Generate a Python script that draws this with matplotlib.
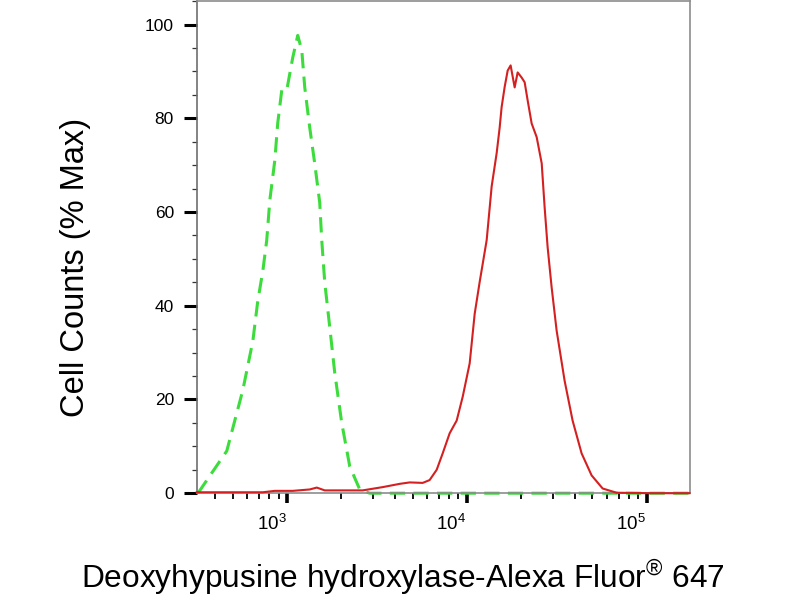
import matplotlib
matplotlib.use("Agg")
import matplotlib.pyplot as plt
import matplotlib.transforms as mtransforms
from matplotlib.ticker import LogLocator, FixedLocator, MultipleLocator, NullFormatter

plt.rcParams['font.family'] = ['Liberation Sans', 'DejaVu Sans']
plt.rcParams['mathtext.fontset'] = 'custom'
plt.rcParams['mathtext.rm'] = 'Liberation Sans'
plt.rcParams['mathtext.it'] = 'Liberation Sans'
plt.rcParams['lines.scale_dashes'] = False

# control (isotype), green dashed
ctrl_x = [321, 464, 570, 648, 690, 736, 774, 805, 858, 891, 938, 1000, 1080, 1151,
          1212, 1259, 1342, 1430, 1525, 1565, 1626, 1733, 1848, 2021, 2240, 2545,
          2890, 5000, 10000, 30000, 100000, 173000]
ctrl_y = [0, 9, 22, 32.5, 41, 47.4, 54, 62.5, 71, 79, 86, 86, 93, 97.7,
          94.5, 86.6, 78, 70.4, 62, 54, 45, 35.5, 25.7, 15, 5.7, 0.8,
          0, 0, 0, 0, 0, 0]

# stained sample, red solid
samp_x = [316, 736, 858, 1080, 1342, 1468, 1626, 2642, 3415, 4249, 4823, 5696, 6223,
          6813, 7356, 8045, 8799, 9506, 10390, 11080, 11800, 12915, 13770, 14680,
          15250, 15640, 16260, 16900, 17550, 18480, 19200, 20210, 21000, 21830,
          22970, 24490, 26120, 27120, 28180, 29650, 31620, 35020, 38790, 43530,
          49470, 56990, 68130, 103900, 173000]
samp_y = [0.2, 0.2, 0.5, 0.5, 0.8, 1.2, 0.6, 0.6, 1.3, 2.0, 2.3, 2.2, 2.8,
          5, 8.5, 12.8, 15.5, 20.6, 27.7, 38.3, 45, 54, 65.5, 72.6,
          78, 82.4, 86.7, 90.2, 91.3, 86.6, 89.8, 88.7, 87.7, 83.8,
          78.9, 76, 70.4, 61, 52.5, 44, 34.7, 24, 15.5, 8.5,
          3.8, 1, 0.1, 0, 0]

xticks = [1e3, 1e4, 1e5]
xtick_labels = [r'$10^{3}$', r'$10^{4}$', r'$10^{5}$']
yticks = [0, 20, 40, 60, 80, 100]

fig = plt.figure(figsize=(8, 6), dpi=100)
ax = fig.add_axes([0.246, 0.178, 0.616, 0.82])

ax.plot(ctrl_x, ctrl_y, color='#3ddc3d', lw=2.2, dashes=(11, 6), clip_on=False, zorder=2)
ax.plot(samp_x, samp_y, color='#d42020', lw=1.5, clip_on=False, zorder=3)

ax.set_xscale('log')
ax.set_xlim(10 ** 2.5, 10 ** 5.239)
ax.set_ylim(0, 105)

ax.xaxis.set_major_locator(FixedLocator(xticks))
ax.set_xticklabels(xtick_labels)
ax.xaxis.set_minor_locator(LogLocator(base=10, subs=range(2, 10)))
ax.xaxis.set_minor_formatter(NullFormatter())
ax.set_yticks(yticks)
ax.yaxis.set_minor_locator(MultipleLocator(5))

ax.tick_params(axis='x', which='major', direction='out', length=7, width=2.6,
               labelsize=13.5, pad=8, color='black')
ax.tick_params(axis='x', which='minor', direction='out', length=4.5, width=1.3, color='black')
ax.tick_params(axis='y', which='major', direction='out', length=9.5, width=2.2,
               labelsize=12.5, pad=7, color='black')
ax.tick_params(axis='y', which='minor', direction='out', length=3.6, width=0.9, color='#333333')

# x tick labels sit a little left of their ticks
shift = mtransforms.ScaledTranslation(-11 / 72, 0, fig.dpi_scale_trans)
for lab in ax.get_xticklabels():
    lab.set_transform(lab.get_transform() + shift)

for side in ['left', 'right', 'top', 'bottom']:
    ax.spines[side].set_color('#8c8c8c')
    ax.spines[side].set_linewidth(1.2)
ax.spines['left'].set_color('#6e6e6e')

fig.text(0.094, 0.555, 'Cell Counts (% Max)', rotation=90, fontsize=23.5,
         ha='center', va='center', color='black')
fig.text(0.503, 0.038, 'Deoxyhypusine hydroxylase-Alexa Fluor$^{®}$ 647',
         fontsize=22.8, ha='center', va='center', color='black')

plt.savefig('out.png', dpi=100)
